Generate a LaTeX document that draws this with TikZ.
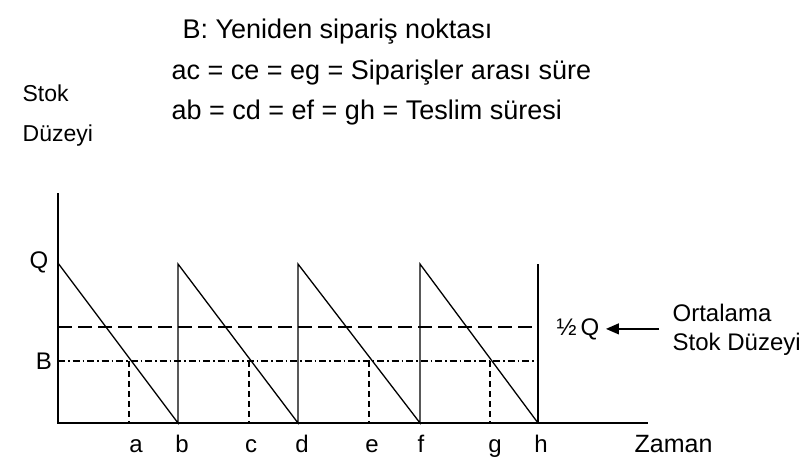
\documentclass[tikz,border=0pt]{standalone}
\usepackage{fontspec}
\setmainfont{Liberation Sans}
\usetikzlibrary{arrows.meta}
\begin{document}
\begin{tikzpicture}[x=1pt,y=-1pt,line width=1.3pt,
  axlbl/.style={inner sep=0pt,anchor=base,font=\fontsize{24}{28}\selectfont},
  toptxt/.style={inner sep=0pt,anchor=base west,font=\fontsize{27}{32}\selectfont},
  sidetxt/.style={inner sep=0pt,anchor=base west,font=\fontsize{24}{28}\selectfont},
  halfline/.style={line width=1.2pt,dash pattern=on 14pt off 6pt},
  reorder/.style={line width=1.2pt,dash pattern=on 7pt off 3pt on 1.5pt off 3pt},
  lead/.style={line width=1.2pt,dash pattern=on 6pt off 4pt}]
\useasboundingbox (0,0) rectangle (809,464);

% key points
\coordinate (top) at (58,193);
\coordinate (o) at (58,423);
\coordinate (xend) at (648,423);
\coordinate (q0) at (58,263);
\coordinate (b) at (178,423);
\coordinate (bq) at (178,264);
\coordinate (d) at (298,423);
\coordinate (dq) at (298,264);
\coordinate (f) at (420,423);
\coordinate (fq) at (420,264);
\coordinate (h) at (538,423);
\coordinate (hq) at (538,264);
\coordinate (hl) at (58,327);
\coordinate (hr) at (538,327);
\coordinate (bl) at (58,361);
\coordinate (br) at (538,361);
\coordinate (a) at (129,423);
\coordinate (at) at (129,361);
\coordinate (c) at (249,423);
\coordinate (ct) at (249,361);
\coordinate (e) at (369,423);
\coordinate (et) at (369,361);
\coordinate (g) at (490,423);
\coordinate (gt) at (490,361);

% axes
\draw (top) -- (o) -- (xend);
% sawtooth
\draw (q0) -- (b) -- (bq) -- (d) -- (dq) -- (f) -- (fq) -- (h);
\draw (hq) -- (h);
% average and reorder lines
\draw[halfline] (hl) -- (hr);
\draw[reorder] (bl) -- (br);
\draw[lead] (at) -- (a);
\draw[lead] (ct) -- (c);
\draw[lead] (et) -- (e);
\draw[lead] (gt) -- (g);

% axis labels
\node[axlbl] (lQ) at (39,268) {Q};
\node[axlbl] (lB) at (44,369) {B};
\node[axlbl] (la) at (136,452) {a};
\node[axlbl] (lb) at (182,452) {b};
\node[axlbl] (lc) at (251,452) {c};
\node[axlbl] (ld) at (302,452) {d};
\node[axlbl] (le) at (372,452) {e};
\node[axlbl] (lf) at (421,452) {f};
\node[axlbl] (lg) at (495,452) {g};
\node[axlbl] (lh) at (541,452) {h};
\node[sidetxt,font=\fontsize{25}{30}\selectfont] (zaman) at (634,452) {Zaman};

% half Q and annotation
\node[inner sep=0pt,anchor=base west,font=\fontsize{24}{28}\selectfont] (halfq) at (556,335) {½\,Q};
\node[sidetxt] (ort1) at (672,321) {Ortalama};
\node[sidetxt] (ort2) at (672,350) {Stok Düzeyi};
\draw[-{Triangle[length=13pt,width=11pt]}] (ort1.west |- halfq.center) ++(-13,0) coordinate (arrs) -- ([xshift=6pt]halfq.east |- arrs);

% header texts
\node[toptxt] (t1) at (182,38) {B: Yeniden sipariş noktası};
\node[toptxt] (t2) at (171,79) {ac = ce = eg = Siparişler arası süre};
\node[toptxt] (t3) at (171,119) {ab = cd = ef = gh = Teslim süresi};
\node[sidetxt,font=\fontsize{23}{28}\selectfont] (s1) at (22,101) {Stok};
\node[sidetxt,font=\fontsize{23}{28}\selectfont] (s2) at (22,141) {Düzeyi};
\end{tikzpicture}
\end{document}
